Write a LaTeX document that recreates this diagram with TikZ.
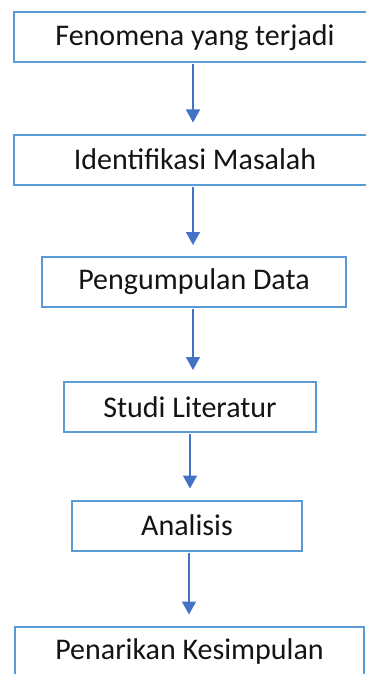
\documentclass[tikz,border=0pt]{standalone}
\usepackage{fontspec}
\setmainfont{Carlito}
\usetikzlibrary{arrows.meta}
\definecolor{ink}{HTML}{141414}
\definecolor{frame}{HTML}{5B9BD5}
\definecolor{flow}{HTML}{4472C4}

\begin{document}
\begin{tikzpicture}[
  x=1pt, y=-1pt,
  font=\fontsize{30}{33}\selectfont,
  box/.style={draw=frame, fill=white, line width=2pt, text=ink,
              inner sep=0pt, minimum width=#1, minimum height=50pt},
  box/.default=250pt,
  ar/.style={-{Triangle[length=13pt, width=14pt]}, draw=flow, line width=1.5pt,
             shorten >=11pt, shorten <=1pt},
]
\useasboundingbox (0,0) rectangle (366,674);

%% ================= the steps =================
\node[box=362pt] (fenomena)   at (195,37.5)  {Fenomena yang terjadi};
\node[box=362pt] (identif)    at (195,159.5) {Identifikasi Masalah};
\node[box=304pt] (kumpul)     at (194,282)   {Pengumpulan Data};
\node[box=252pt] (studi)      at (190,407)   {Studi Literatur};
\node[box=230pt] (analisis)   at (187,525.5) {Analisis};
\node[box=349pt] (kesimpulan) at (189.5,651.5) {Penarikan Kesimpulan};

%% ================= the flow =================
\draw[ar] ([xshift=-2pt]fenomena.south) -- ([xshift=-2pt]fenomena.south |- identif.north);
\draw[ar] ([xshift=-2pt]identif.south)  -- ([xshift=-2pt]identif.south |- kumpul.north);
\draw[ar] ([xshift=-1pt]kumpul.south)   -- ([xshift=-1pt]kumpul.south |- studi.north);
\draw[ar] (studi.south)    -- (studi.south |- analisis.north);
\draw[ar] ([xshift=2pt]analisis.south) -- ([xshift=2pt]analisis.south |- kesimpulan.north);

\end{tikzpicture}
\end{document}
